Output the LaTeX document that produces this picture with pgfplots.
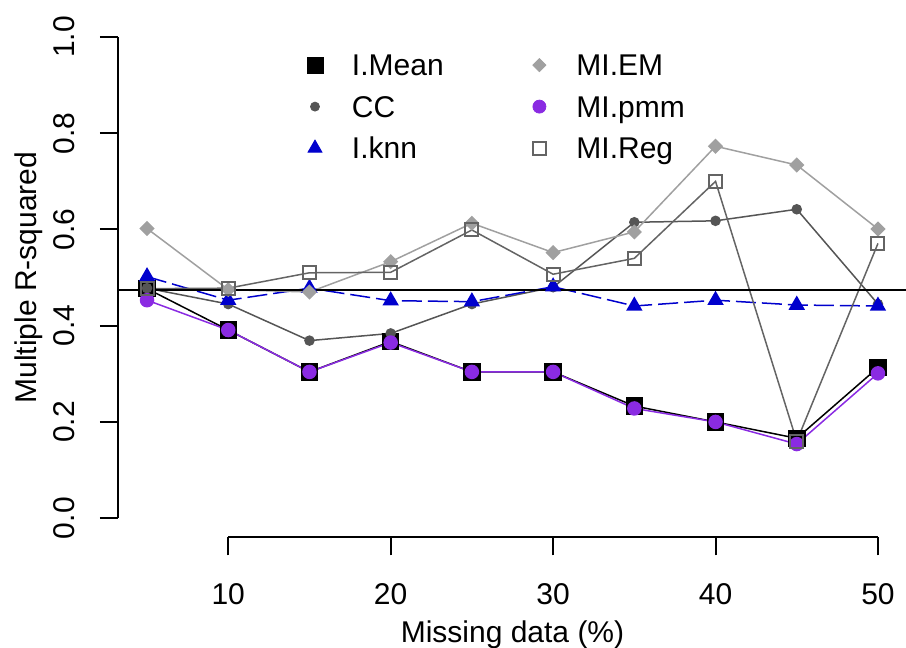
\documentclass[border=0pt]{standalone}
\usepackage{fontspec}
\setmainfont{Liberation Sans}
\usepackage{pgfplots}
\pgfplotsset{compat=1.18}
\definecolor{knnblue}{RGB}{0,0,205}
\definecolor{pmmpurple}{RGB}{138,43,226}
\definecolor{ccgrey}{RGB}{85,85,85}
\definecolor{emgrey}{RGB}{160,160,160}
\definecolor{reggrey}{RGB}{100,100,100}
\begin{document}
\begin{tikzpicture}[font=\fontsize{15bp}{18bp}\selectfont]
\begin{axis}[
  at={(0,0)}, anchor=south west,
  scale only axis, width=394.7bp, height=259.8bp,
  xmin=3.2, xmax=51.8, ymin=-0.04, ymax=1.04,
  axis line style={draw=none},
  xtick pos=left, ytick pos=left,
  xtick={10,20,30,40,50}, ytick={0,0.2,0.4,0.6,0.8,1.0},
  minor tick num=0,
  tick align=outside, major tick length=9bp,
  tick style={black, line width=1bp},
  /pgf/number format/assume math mode=true,
  tick label style={font=\fontsize{15bp}{18bp}\selectfont},
  xticklabel style={anchor=base, inner sep=0pt},
  yticklabel style={rotate=90, anchor=base, inner sep=0pt, /pgf/number format/fixed, /pgf/number format/fixed zerofill, /pgf/number format/precision=1},
  xticklabel shift=24.3bp, yticklabel shift=12.85bp,
  xlabel={Missing data (\%)}, ylabel={Multiple R-squared},
  xlabel style={at={(axis description cs:0.5,-0.2032)}, anchor=base, inner sep=0pt},
  ylabel style={at={(axis description cs:-0.1024,0.5)}, anchor=base, inner sep=0pt},
  clip=false,
  legend columns=2,
  legend image code/.code={\pgfpathrectangle{\pgfpoint{-9bp}{0bp}}{\pgfpoint{18bp}{10bp}}\pgfusepath{use as bounding box}\draw[#1] plot coordinates {(0bp,5.3bp)};},
  legend style={at={(axis description cs:0.2270,0.9309)}, anchor=north west, draw=none, fill=none, inner sep=0pt, outer sep=0pt, column sep=9.5bp, row sep=6.75bp, cells={anchor=base west}, nodes={text height=11bp, text depth=3bp, inner sep=0pt}, /tikz/every even column/.append style={column sep=39pt}, font=\fontsize{15bp}{18bp}\selectfont},
]
% axis lines (R style: from first to last tick)
\draw[line width=1bp] (axis cs:10,-0.04) -- (axis cs:50,-0.04);
\draw[line width=1bp] (axis cs:3.2,0) -- (axis cs:3.2,1);

\addplot[black, line width=0.75bp, mark=square*, mark size=4bp, forget plot] coordinates {
(5,0.477) (10,0.391) (15,0.304) (20,0.367) (25,0.304) (30,0.304) (35,0.233) (40,0.200) (45,0.166) (50,0.313)};
\addplot[ccgrey, line width=0.75bp, mark=*, mark size=2.25bp, forget plot] coordinates {
(5,0.478) (10,0.445) (15,0.369) (20,0.384) (25,0.445) (30,0.480) (35,0.615) (40,0.618) (45,0.642) (50,0.445)};
\addplot[knnblue, line width=0.75bp, dash pattern=on 10bp off 3bp, mark=triangle*, mark size=4bp, mark options={solid}, forget plot] coordinates {
(5,0.502) (10,0.453) (15,0.478) (20,0.452) (25,0.450) (30,0.481) (35,0.441) (40,0.453) (45,0.443) (50,0.441)};
\addplot[emgrey, line width=0.75bp, mark=square*, mark size=2.3bp, mark options={rotate=45}, forget plot] coordinates {
(5,0.602) (10,0.475) (15,0.470) (20,0.533) (25,0.613) (30,0.552) (35,0.595) (40,0.773) (45,0.734) (50,0.601)};
\addplot[pmmpurple, line width=0.75bp, mark=*, mark size=3.25bp, forget plot] coordinates {
(5,0.453) (10,0.391) (15,0.304) (20,0.365) (25,0.304) (30,0.304) (35,0.228) (40,0.200) (45,0.154) (50,0.301)};
\addplot[reggrey, line width=0.75bp, mark=square, mark size=3.25bp, mark options={line width=1bp}, forget plot] coordinates {
(5,0.477) (10,0.478) (15,0.510) (20,0.511) (25,0.599) (30,0.507) (35,0.540) (40,0.700) (45,0.160) (50,0.571)};
\addplot[black, line width=1bp, forget plot] coordinates {(3.2,0.474) (51.8,0.474)};

\addlegendimage{black, mark=square*, mark size=4bp}
\addlegendentry{I.Mean}
\addlegendimage{emgrey, mark=square*, mark size=2.3bp, mark options={rotate=45}}
\addlegendentry{MI.EM}
\addlegendimage{ccgrey, mark=*, mark size=2.25bp}
\addlegendentry{CC}
\addlegendimage{pmmpurple, mark=*, mark size=3.25bp}
\addlegendentry{MI.pmm}
\addlegendimage{knnblue, mark=triangle*, mark size=4bp}
\addlegendentry{I.knn}
\addlegendimage{reggrey, mark=square, mark size=3.25bp, line width=1bp}
\addlegendentry{MI.Reg}
\end{axis}
\pgfresetboundingbox
\path[use as bounding box] (-58.9bp,-55.3bp) rectangle (394.1bp,268.7bp);
\end{tikzpicture}
\end{document}
